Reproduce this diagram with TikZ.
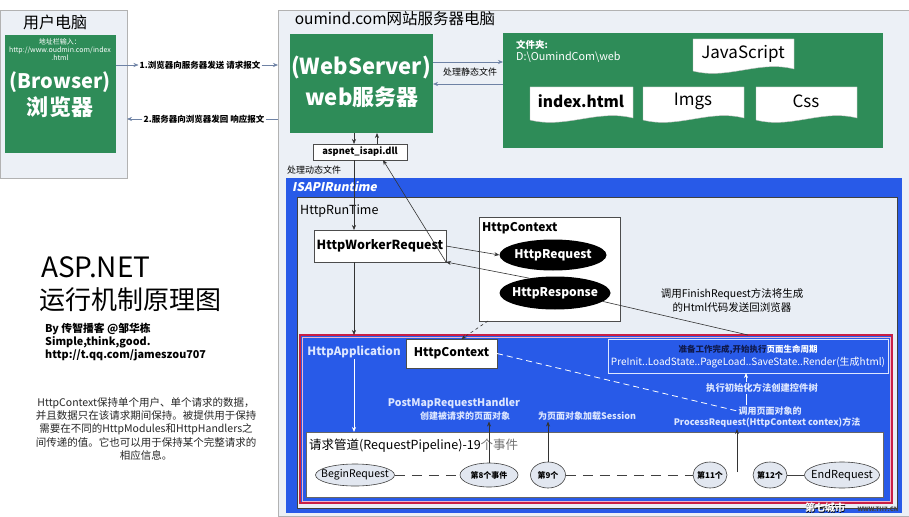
\documentclass[tikz,border=0pt]{standalone}
\usepackage{fontspec}
\setmainfont{Noto Sans CJK SC}
\newfontfamily\slfont{Noto Sans CJK SC}[FakeSlant=0.2]
\usetikzlibrary{arrows.meta,shapes.geometric,calc}
\definecolor{panel}{RGB}{236,240,246}
\definecolor{green1}{RGB}{46,140,88}
\definecolor{blue1}{RGB}{40,90,232}
\definecolor{rtfill}{RGB}{233,238,245}
\definecolor{red1}{RGB}{200,30,70}
\definecolor{pink1}{RGB}{240,180,200}
\definecolor{linegray}{RGB}{110,130,165}
\definecolor{evfill}{RGB}{226,231,240}
\definecolor{lt}{RGB}{220,230,255}
\definecolor{navy}{RGB}{15,25,75}
\newcommand\fsz[1]{\fontsize{#1}{#1}\selectfont}
\begin{document}
\begin{tikzpicture}[x=1pt,y=-1pt,
  panelbox/.style={fill=panel,draw=black!30,line width=0.6pt,inner sep=0,outer sep=0},
  gbox/.style={fill=green1,draw=none,inner sep=0,outer sep=0},
  wbox/.style={fill=white,draw=black!70,line width=0.6pt,inner sep=0,outer sep=0},
  txt/.style={inner sep=1pt},
  arr/.style={-{Stealth[length=5pt,width=4pt]},line width=0.6pt},
  garr/.style={arr,draw=linegray},
  barr/.style={arr,draw=black!80},
  warr/.style={arr,draw=white},
  ev/.style={ellipse,draw=black!75,fill=evfill,inner sep=0,line width=0.6pt},
  docshape/.style={fill=white,draw=black!25,line width=0.4pt}]
\useasboundingbox (0,0) rectangle (909,516);
\fill[white] (0,0) rectangle (909,516);

% ---------- user computer ----------
\node[panelbox,minimum width=127pt,minimum height=168pt] (userpc) at (63.5,94) {};
\node[txt,font=\fsz{16}] (usert) at (55,22) {用户电脑};
\node[gbox,minimum width=111pt,minimum height=118pt] (browser) at (60.5,94) {};
\node[txt,white,align=center,font=\fontsize{7}{8}\selectfont] (burl) at (60,50) {地址栏输入：\\http://www.oudmin.com/index\\.html};
\node[txt,white,font=\bfseries\fsz{20}] (ben) at (60,82) {(Browser)};
\node[txt,white,font=\bfseries\fsz{22}] (bcn) at (60,107) {浏览器};

% ---------- server computer ----------
\node[panelbox,minimum width=631pt,minimum height=506pt] (srv) at (593.5,263) {};
\node[txt,font=\fsz{15.5}] (srvt) at (395,19) {oumind.com网站服务器电脑};
\node[gbox,minimum width=143pt,minimum height=99pt] (web) at (361.5,83.5) {};
\node[txt,white,font=\bfseries\fsz{22}] (wen) at (361,68) {(WebServer)};
\node[txt,white,font=\bfseries\fsz{22}] (wcn) at (362,97) {web服务器};
\node[gbox,minimum width=380pt,minimum height=115pt] (folder) at (693,90.5) {};
\node[txt,white,anchor=west,font=\bfseries\fsz{9.5}] (fold1) at (515,45) {文件夹:};
\node[txt,white,anchor=west,font=\fsz{10.8}] (fold2) at (515,57) {D:\textbackslash OumindCom\textbackslash web};
\draw[docshape] (693,39) -- (794,39) -- (794,69) .. controls (759,60) and (728,80) .. (693,71) -- cycle;
\draw[docshape] (530,87) -- (633,87) -- (633,118) .. controls (597,109) and (566,129) .. (530,120) -- cycle;
\draw[docshape] (643,87) -- (744,87) -- (744,118) .. controls (709,109) and (678,129) .. (643,120) -- cycle;
\draw[docshape] (756,87) -- (857,87) -- (857,118) .. controls (822,109) and (791,129) .. (756,120) -- cycle;
\node[txt,font=\fsz{17}] (djs) at (743,54) {JavaScript};
\node[txt,font=\bfseries\fsz{15.5}] (dindex) at (581,101) {index.html};
\node[txt,font=\fsz{17}] (dimgs) at (693,101) {Imgs};
\node[txt,font=\fsz{17}] (dcss) at (806,101) {Css};

% request / response between computers
\node[txt,fill=white,font=\bfseries\fsz{8.5}] (lab1) at (200,65) {1.浏览器向服务器发送 请求报文};
\node[txt,fill=white,font=\bfseries\fsz{8.5}] (lab2) at (204,119) {2.服务器向浏览器发回 响应报文};
\draw[garr] (browser.east |- lab1) -- (lab1.west);
\draw[garr] (lab1.east) -- (srv.west |- lab1);
\draw[linegray,line width=0.6pt] (srv.west |- lab2) -- (lab2.east);
\draw[garr] (lab2.west) -- (userpc.east |- lab2);

% static files
\node[txt,font=\fsz{9}] (lab3) at (470,72) {处理静态文件};
\draw[garr] ([yshift=10pt]web.east |- lab3) -- ([yshift=10pt]folder.west |- lab3);
\draw[garr] ([yshift=-12pt]folder.west |- lab3) -- ([yshift=-12pt]web.east |- lab3);

% dll
\node[wbox,minimum width=94pt,minimum height=16pt,font=\bfseries\fsz{9.3}] (dll) at (360,152) {aspnet\_isapi.dll};
\draw[barr] ([xshift=-6pt]dll.north |- web.south) -- ([xshift=-6pt]dll.north);
\draw[barr] ([xshift=17pt]dll.north) -- ([xshift=17pt]dll.north |- web.south);
\node[txt,font=\fsz{9}] (dyn) at (314,170) {处理动态文件};

% ---------- ISAPIRuntime ----------
\node[fill=blue1,inner sep=0,outer sep=0,minimum width=616pt,minimum height=335pt] (isapi) at (594,345.5) {};
\node[txt,white,anchor=west,font=\slfont\bfseries\fsz{12}] (isapit) at (291,187) {ISAPIRuntime};
\node[fill=rtfill,draw=black!75,line width=0.8pt,inner sep=0,outer sep=0,minimum width=600pt,minimum height=311pt] (rt) at (597,352.5) {};
\node[txt,anchor=west,font=\fsz{12.5}] (rtt) at (299,211) {HttpRunTime};
\node[wbox,minimum width=132pt,minimum height=32pt,font=\bfseries\fsz{12.5}] (hwr) at (380,246) {HttpWorkerRequest};
\node[wbox,minimum width=141pt,minimum height=104pt] (ctx) at (549.5,269) {};
\node[txt,anchor=west,font=\bfseries\fsz{12}] (ctxt) at (481,228) {HttpContext};
\node[ellipse,fill=black,inner sep=0,minimum width=107pt,minimum height=31pt] (hreq) at (553,255) {};
\node[txt,white,font=\bfseries\fsz{12}] (hreqt) at (hreq.center) {HttpRequest};
\node[ellipse,fill=black,inner sep=0,minimum width=111pt,minimum height=33pt] (hresp) at (555,293) {};
\node[txt,white,font=\bfseries\fsz{12}] (hrespt) at (hresp.center) {HttpResponse};
\node[txt,align=center,font=\fontsize{10.5}{14}\selectfont] (fin) at (732,300) {调用FinishRequest方法将生成\\的Html代码发送回浏览器};

% ---------- HttpApplication (red box) ----------
\node[fill=blue1,draw=red1,line width=2pt,inner sep=0,outer sep=0,minimum width=592pt,minimum height=168pt] (red) at (596,419) {};
\draw[pink1,line width=0.8pt] ([shift={(2pt,-2pt)}]red.north west) rectangle ([shift={(-2pt,2pt)}]red.south east);
\node[txt,lt,font=\bfseries\fsz{11.5}] (happ) at (354,352) {HttpApplication};
\node[wbox,minimum width=91pt,minimum height=29pt,font=\bfseries\fsz{12}] (ctx2) at (451.5,353.5) {HttpContext};
\node[draw=lt,line width=0.8pt,inner sep=0,outer sep=0,minimum width=280pt,minimum height=34pt] (life) at (748,356) {};
\node[txt,font=\bfseries\fsz{8.5}] (life1) at (748,350) {\textcolor{navy}{准备工作完成,开始执行}\textcolor{white}{页面生命周期}};
\node[txt,white,font=\fsz{10}] (life2) at (748,362.5) {PreInit..LoadState..PageLoad..SaveState..Render(生成html)};
\node[txt,lt,font=\bfseries\fsz{10.5}] (post1) at (454,403) {PostMapRequestHandler};
\node[txt,lt,font=\bfseries\fsz{9}] (post2) at (465,416) {创建被请求的页面对象};
\node[txt,lt,font=\bfseries\fsz{9}] (sess) at (587,416) {为页面对象加载Session};
\node[txt,lt,font=\bfseries\fsz{9}] (proc1) at (770,411) {调用页面对象的};
\node[txt,lt,font=\bfseries\fsz{9}] (proc2) at (767,423) {ProcessRequest(HttpContext contex)方法};
\coordinate (pw) at (746,405);
\draw[warr] (pw) -- (pw |- life.south);
\node[txt,lt,fill=blue1,font=\bfseries\fsz{9.3}] (init) at (762,388) {执行初始化方法创建控件树};

% pipeline
\node[fill=white,draw=black!60,line width=0.6pt,inner sep=0,outer sep=0,minimum width=577pt,minimum height=65pt] (pipe) at (594.5,464.5) {};
\node[txt,anchor=west,font=\fsz{12.5}] (pipet) at (308,446) {请求管道(RequestPipeline)-19\textcolor{black!55}{个事件}};
\node[ev,minimum width=79pt,minimum height=22pt] (ev0) at (355,475) {};
\node[txt,font=\fsz{10.5}] (ev0t) at (ev0.center) {BeginRequest};
\node[ev,minimum width=58pt,minimum height=24pt] (ev8) at (489,475) {};
\node[txt,font=\bfseries\fsz{8}] (ev8t) at (ev8.center) {第8个事件};
\node[ev,minimum width=35pt,minimum height=26pt] (ev9) at (548,475) {};
\node[txt,font=\bfseries\fsz{8}] (ev9t) at (ev9.center) {第9个};
\node[ev,minimum width=34pt,minimum height=26pt] (ev11) at (710,475) {};
\node[txt,font=\bfseries\fsz{8}] (ev11t) at (ev11.center) {第11个};
\node[ev,minimum width=34pt,minimum height=26pt] (ev12) at (770,475) {};
\node[txt,font=\bfseries\fsz{8}] (ev12t) at (ev12.center) {第12个};
\node[ev,minimum width=75pt,minimum height=26pt] (evend) at (842,475) {};
\node[txt,font=\fsz{11}] (evendt) at (evend.center) {EndRequest};
\draw[black!75,line width=0.7pt,dash pattern=on 10pt off 7pt] (ev0.east) -- (ev8.west);
\draw[black!75,line width=0.7pt,dash pattern=on 10pt off 7pt] (ev9.east) -- (ev11.west);
\draw[black!75,line width=0.7pt] (ev12.east) -- (evend.west);

% ---------- connectors inside runtime ----------
\draw[barr] ([xshift=-6pt]dll.south) -- ([xshift=-6pt]dll.south |- hwr.north);
\draw[barr] (hwr.south east) -- ([xshift=23pt]dll.south);
\draw[barr] (hwr.east) -- (hreq.west);
\draw[barr] (hresp.150) -- (hwr.south east);
\draw[black!80,line width=0.6pt] (hresp.-10) -- (red.north -| life.north);
\draw[barr] ([xshift=-26pt]hwr.south) -- ([xshift=-26pt]hwr.south |- red.north);
\draw[barr,dashed] ([xshift=9pt]ctx.south west) -- ([xshift=10pt]ctx2.north);
\draw[white,line width=0.8pt,dash pattern=on 6pt off 4pt] (ctx2.east) -- (proc1.west);
\draw[warr] (happ.south) -- (happ.south |- pipe.north);
\draw[barr] (ev8.north) -- (ev8.north |- post2.south);
\draw[barr] (ev9.north) -- (ev9.north |- sess.south);
\coordinate (pa) at (737,472);
\draw[barr] (pa) -- (pa |- proc2.south);

% ---------- left texts ----------
\node[txt,anchor=west,font=\fsz{28}] (asp) at (40,267) {ASP.NET};
\node[txt,anchor=west,font=\fsz{26}] (asp2) at (38,300) {运行机制原理图};
\node[txt,anchor=north west,align=left,font=\bfseries\fontsize{10.8}{13}\selectfont] (by) at (44,322) {By 传智播客 @邹华栋\\Simple,think,good.\\http://t.qq.com/jameszou707};
\node[txt,align=center,text=black!85,font=\fontsize{10.5}{13.3}\selectfont] (para) at (146,429) {HttpContext保持单个用户、单个请求的数据，\\并且数据只在该请求期间保持。被提供用于保持\\需要在不同的HttpModules和HttpHandlers之\\间传递的值。它也可以用于保持某个完整请求的\\相应信息。};

% watermark
\node[txt,black,font=\bfseries\fsz{10}] (wm0) at (825.5,508.5) {第七城市};
\node[txt,white,font=\bfseries\fsz{10}] (wm1) at (825,508) {第七城市};
\node[txt,black!75,font=\bfseries\fsz{6}] (wm2) at (878,509) {WWW.TH7.CN};
\end{tikzpicture}
\end{document}
